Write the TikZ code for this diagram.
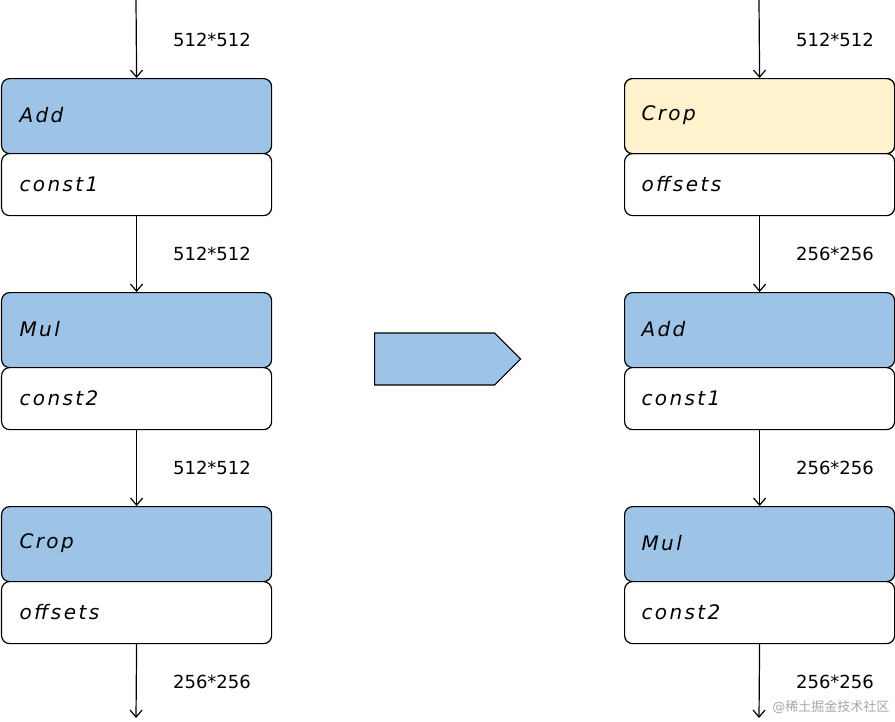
\documentclass[tikz,border=0pt]{standalone}
\usepackage{fontspec}
\setmainfont{DejaVu Sans}
\usetikzlibrary{shapes.arrows,arrows.meta}
\definecolor{hblue}{HTML}{9DC3E6}
\definecolor{hyel}{HTML}{FFF2CC}
\begin{document}
\begin{tikzpicture}[x=1pt,y=-1pt,
  box/.style={draw=black,line width=1.2pt,rounded corners=8pt,minimum width=270pt,anchor=north west,inner sep=0pt},
  hdr/.style={box,minimum height=75pt,fill=hblue},
  bdy/.style={box,minimum height=62pt,fill=white},
  txt/.style={font=\fontsize{20}{24}\selectfont\itshape\addfontfeature{LetterSpace=12},anchor=west},
  lbl/.style={font=\fontsize{18}{22}\selectfont,anchor=center},
  arr/.style={-{Straight Barb[length=7pt,width=12pt]},line width=1.2pt}]
\useasboundingbox (0,0) rectangle (895,721);
\foreach \col/\x in {L/1,R/624}{
  \foreach \i/\y in {1/78,2/292,3/506}{
    \node[hdr] (\col h\i) at (\x,\y) {};
    \node[bdy] (\col b\i) at (\x,\y+75) {};
  }
  \coordinate (\col top) at (\x+135,0);
  \coordinate (\col bot) at (\x+135,718);
}
\node[hdr,fill=hyel] at (624,78) {};
% texts
\node[txt] at (16,115) {Add};
\node[txt] at (16,184) {const1};
\node[txt] at (16,329) {Mul};
\node[txt] at (16,398) {const2};
\node[txt] at (16,543) {Crop};
\node[txt] at (16,612) {offsets};
\node[txt] at (638,115) {Crop};
\node[txt] at (638,184) {offsets};
\node[txt] at (638,329) {Add};
\node[txt] at (638,398) {const1};
\node[txt] at (638,543) {Mul};
\node[txt] at (638,612) {const2};
% connectors
\foreach \c in {L,R}{
  \draw[arr] (\c top) -- (\c h1.north);
  \draw[arr] (\c b1.south) -- (\c h2.north);
  \draw[arr] (\c b2.south) -- (\c h3.north);
  \draw[arr] (\c b3.south) -- (\c bot);
}
\node[lbl] at (212,40) {512*512};
\node[lbl] at (212,254) {512*512};
\node[lbl] at (212,468) {512*512};
\node[lbl] at (212,682) {256*256};
\node[lbl] at (835,40) {512*512};
\node[lbl] at (835,254) {256*256};
\node[lbl] at (835,468) {256*256};
\node[lbl] at (835,682) {256*256};
% big arrow
\node[single arrow,draw=black,line width=1.2pt,fill=hblue,minimum height=146pt,minimum width=52pt,single arrow head extend=0pt,single arrow tip angle=90,inner sep=0pt,anchor=west] (big) at (374,359) {};
\node[font=\fontsize{13}{15}\selectfont,text=black!35,anchor=east] (wm) at (893,707) {@\fontspec{Noto Sans CJK SC}稀土掘金技术社区};
\end{tikzpicture}
\end{document}
